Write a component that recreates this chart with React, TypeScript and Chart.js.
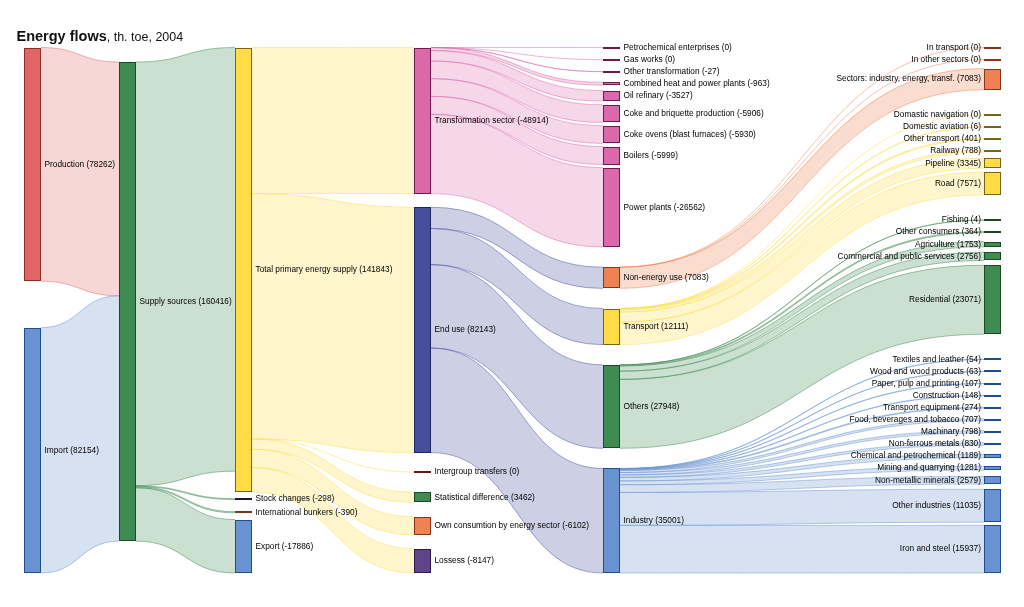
import React, { useEffect, useRef } from "react";
import { Chart, registerables } from "chart.js";

Chart.register(...registerables);

// ---------------- data ----------------
const TITLE = "Energy flows";
const SUBTITLE = ", th. toe, 2004";

const NODE_NAMES = [
  "Production", "Import",
  "Supply sources",
  "Total primary energy supply", "Stock changes", "International bunkers", "Export",
  "Transformation sector", "End use", "Intergroup transfers", "Statistical difference",
  "Own consumtion by energy sector", "Lossess",
  "Petrochemical enterprises", "Gas works", "Other transformation", "Combined heat and power plants",
  "Oil refinary", "Coke and briquette production", "Coke ovens (blast furnaces)", "Boilers",
  "Power plants", "Non-energy use", "Transport", "Others", "Industry",
  "In transport", "In other sectors", "Sectors: industry, energy, transf.",
  "Domastic navigation", "Domestic aviation", "Other transport", "Railway", "Pipeline", "Road",
  "Fishing", "Other consumers", "Agriculture", "Commercial and public services", "Residential",
  "Textiles and leather", "Wood and wood products", "Paper, pulp and printing", "Construction",
  "Transport equipment", "Food, beverages and tobacco", "Machinary", "Non-ferrous metals",
  "Chemical and petrochemical", "Mining and quarrying", "Non-metallic minerals",
  "Other industries", "Iron and steel",
];

const NODE_COLUMNS = [
  0, 0,
  1,
  2, 2, 2, 2,
  3, 3, 3, 3, 3, 3,
  4, 4, 4, 4, 4, 4, 4, 4, 4, 4, 4, 4, 4,
  5, 5, 5, 5, 5, 5, 5, 5, 5, 5, 5, 5, 5, 5, 5, 5, 5, 5, 5, 5, 5, 5, 5, 5, 5, 5, 5,
];

const NODE_LABEL_VALUES = [
  78262, 82154,
  160416,
  141843, -298, -390, -17886,
  -48914, 82143, 0, 3462, -6102, -8147,
  0, 0, -27, -963, -3527, -5906, -5930, -5999, -26562, 7083, 12111, 27948, 35001,
  0, 0, 7083,
  0, 6, 401, 788, 3345, 7571,
  4, 364, 1753, 2756, 23071,
  54, 63, 107, 148, 274, 707, 798, 830, 1189, 1281, 2579, 11035, 15937,
];

const LINK_FROM = [
  "Production", "Import",
  "Supply sources", "Supply sources", "Supply sources", "Supply sources",
  "Total primary energy supply", "Total primary energy supply", "Total primary energy supply",
  "Total primary energy supply", "Total primary energy supply", "Total primary energy supply",
  "Transformation sector", "Transformation sector", "Transformation sector", "Transformation sector",
  "Transformation sector", "Transformation sector", "Transformation sector", "Transformation sector",
  "Transformation sector",
  "End use", "End use", "End use", "End use",
  "Non-energy use", "Non-energy use", "Non-energy use",
  "Transport", "Transport", "Transport", "Transport", "Transport", "Transport",
  "Others", "Others", "Others", "Others", "Others",
  "Industry", "Industry", "Industry", "Industry", "Industry", "Industry", "Industry",
  "Industry", "Industry", "Industry", "Industry", "Industry", "Industry",
];

const LINK_TO = [
  "Supply sources", "Supply sources",
  "Total primary energy supply", "Stock changes", "International bunkers", "Export",
  "Transformation sector", "End use", "Intergroup transfers", "Statistical difference",
  "Own consumtion by energy sector", "Lossess",
  "Petrochemical enterprises", "Gas works", "Other transformation", "Combined heat and power plants",
  "Oil refinary", "Coke and briquette production", "Coke ovens (blast furnaces)", "Boilers",
  "Power plants",
  "Non-energy use", "Transport", "Others", "Industry",
  "In transport", "In other sectors", "Sectors: industry, energy, transf.",
  "Domastic navigation", "Domestic aviation", "Other transport", "Railway", "Pipeline", "Road",
  "Fishing", "Other consumers", "Agriculture", "Commercial and public services", "Residential",
  "Textiles and leather", "Wood and wood products", "Paper, pulp and printing", "Construction",
  "Transport equipment", "Food, beverages and tobacco", "Machinary", "Non-ferrous metals",
  "Chemical and petrochemical", "Mining and quarrying", "Non-metallic minerals",
  "Other industries", "Iron and steel",
];

const LINK_VALUES = [
  78262, 82154,
  141843, 298, 390, 17886,
  48914, 82143, 0, 3462, 6102, 8147,
  0, 0, 27, 963, 3527, 5906, 5930, 5999, 26562,
  7083, 12111, 27948, 35001,
  0, 0, 7083,
  0, 6, 401, 788, 3345, 7571,
  4, 364, 1753, 2756, 23071,
  54, 63, 107, 148, 274, 707, 798, 830, 1189, 1281, 2579, 11035, 15937,
];

// ---------------- styles / layout constants ----------------
const PALETTE: Record<string, { fill: string; stroke: string }> = {
  red: { fill: "#e06666", stroke: "#8e2c2c" },
  blue: { fill: "#6893d0", stroke: "#1e4d93" },
  green: { fill: "#3f8b51", stroke: "#1c4826" },
  yellow: { fill: "#ffdc45", stroke: "#75641a" },
  navy: { fill: "#2b2a66", stroke: "#17163d" },
  brown: { fill: "#b05a3a", stroke: "#7a3420" },
  darkred: { fill: "#9a2a2a", stroke: "#651616" },
  pink: { fill: "#dc68ac", stroke: "#6e1a4f" },
  indigo: { fill: "#464f9e", stroke: "#1f255e" },
  orange: { fill: "#ef8153", stroke: "#8b3419" },
  purple: { fill: "#5f4489", stroke: "#2d1b4b" },
};

const NODE_FAMILY = [
  "red", "blue",
  "green",
  "yellow", "navy", "brown", "blue",
  "pink", "indigo", "darkred", "green", "orange", "purple",
  "pink", "pink", "pink", "pink", "pink", "pink", "pink", "pink", "pink",
  "orange", "yellow", "green", "blue",
  "orange", "orange", "orange",
  "yellow", "yellow", "yellow", "yellow", "yellow", "yellow",
  "green", "green", "green", "green", "green",
  "blue", "blue", "blue", "blue", "blue", "blue", "blue", "blue", "blue", "blue", "blue", "blue", "blue",
];

const COL_X = [0, 0.0995, 0.2208, 0.4068, 0.6036, 1];
const NODE_W = 17;
const PAD_FRAC = 0.0163;
const LABEL_FRAC = 11.6 / 526;
const GAP_SMALL_FRAC = 0.5 / 526;
const GAP_BIG_FRAC = 3.2 / 526;
const FREE_FRAC = 2 / 526;
const LABEL_FONT = '8.3px Arial, "Liberation Sans", sans-serif';

type LinkT = { s: number; t: number; v: number; sOff: number; tOff: number };

function computeLayout() {
  const n = NODE_NAMES.length;
  const index = new Map<string, number>();
  NODE_NAMES.forEach((s, i) => index.set(s, i));
  const links: LinkT[] = LINK_FROM.map((f, k) => ({
    s: index.get(f) as number,
    t: index.get(LINK_TO[k]) as number,
    v: LINK_VALUES[k],
    sOff: 0,
    tOff: 0,
  }));
  const inSum = new Array(n).fill(0);
  const outSum = new Array(n).fill(0);
  for (const l of links) {
    outSum[l.s] += l.v;
    inSum[l.t] += l.v;
  }
  const size = NODE_NAMES.map((_, i) => Math.max(inSum[i], outSum[i]));
  const outs: LinkT[][] = NODE_NAMES.map(() => []);
  const ins: LinkT[][] = NODE_NAMES.map(() => []);
  for (const l of links) {
    outs[l.s].push(l);
    ins[l.t].push(l);
  }
  for (let i = 0; i < n; i++) {
    outs[i].sort((a, b) => a.t - b.t);
    let acc = 0;
    for (const l of outs[i]) {
      l.sOff = acc;
      acc += l.v;
    }
    ins[i].sort((a, b) => a.s - b.s);
    acc = 0;
    for (const l of ins[i]) {
      l.tOff = acc;
      acc += l.v;
    }
  }
  const nCols = Math.max(...NODE_COLUMNS) + 1;
  const cols: number[][] = Array.from({ length: nCols }, () => []);
  NODE_COLUMNS.forEach((c, i) => cols[c].push(i));
  let span = 0;
  for (const col of cols) {
    const sum = col.reduce((a, i) => a + size[i], 0);
    span = Math.max(span, sum / (1 - (col.length - 1) * PAD_FRAC));
  }
  const LABEL = LABEL_FRAC * span;
  const GS = GAP_SMALL_FRAC * span;
  const GB = GAP_BIG_FRAC * span;
  const FREE = FREE_FRAC * span;
  const y0 = new Array(n).fill(0);

  const fromSources = (i: number): number | null => {
    let w = 0, s = 0;
    for (const l of ins[i]) {
      const wt = l.v > 0 ? l.v : 1e-6;
      s += (y0[l.s] + l.sOff - l.tOff) * wt;
      w += wt;
    }
    return w > 0 ? s / w : null;
  };
  const fromTargets = (i: number): number | null => {
    let w = 0, s = 0;
    for (const l of outs[i]) {
      const wt = l.v > 0 ? l.v : 1e-6;
      s += (y0[l.t] + l.tOff - l.sOff) * wt;
      w += wt;
    }
    return w > 0 ? s / w : null;
  };
  const sourceKey = (i: number) => ins[i].map((l) => l.s).sort((a, b) => a - b).join(",");

  const place = (col: number[]) => {
    const m = col.length;
    const hs = col.map((i) => size[i]);
    if (m === 1) {
      y0[col[0]] = (span - hs[0]) / 2;
      return;
    }
    let ys: number[] = hs.map(() => 0);
    const ext = (k: number) => Math.max(hs[k], LABEL);
    const cen = (k: number) => ys[k] + hs[k] / 2;
    const extTop = (k: number) => cen(k) - ext(k) / 2;
    const extBot = (k: number) => cen(k) + ext(k) / 2;
    const gap = (k: number) => (hs[k] >= LABEL || hs[k + 1] >= LABEL ? GB : GS);

    const keys = col.map(sourceKey);
    if (keys.every((k) => k === keys[0])) {
      // one group: justify with equal gaps between the label-aware extents
      ys[0] = 0;
      for (let k = 1; k < m; k++) ys[k] += extBot(k - 1) - extTop(k);
      const g = (span - (ys[m - 1] + hs[m - 1])) / (m - 1);
      for (let k = 1; k < m; k++) ys[k] += g * k;
      col.forEach((i, k) => (y0[i] = ys[k]));
      return;
    }

    const ideal = col.map((i) => {
      const a = fromSources(i);
      if (a !== null) return a;
      const b = fromTargets(i);
      return b !== null ? b : 0;
    });
    const a = ideal[0], b = ideal[m - 1];
    const B = span - hs[m - 1];
    ys = ideal.map((v) => (b - a > 1e-9 ? ((v - a) * B) / (b - a) : 0));
    // phase 1: collisions
    if (ys[0] < 0) ys[0] = 0;
    for (let k = 1; k < m; k++) {
      const minC = cen(k - 1) + ext(k - 1) / 2 + gap(k - 1) + ext(k) / 2;
      if (cen(k) < minC) ys[k] += minC - cen(k);
    }
    if (ys[m - 1] + hs[m - 1] > span) ys[m - 1] = span - hs[m - 1];
    for (let k = m - 2; k >= 0; k--) {
      const maxC = cen(k + 1) - ext(k + 1) / 2 - gap(k) - ext(k) / 2;
      if (cen(k) > maxC) ys[k] -= cen(k) - maxC;
    }
    if (ys[0] < 0) ys[0] = 0;
    // phase 2: share the free space evenly among the gaps that are not packed
    const gs: number[] = [];
    for (let k = 0; k < m - 1; k++) gs.push(extTop(k + 1) - extBot(k) - gap(k));
    const freeIdx = gs.map((g, k) => (g > FREE ? k : -1)).filter((k) => k >= 0);
    if (freeIdx.length > 1) {
      const F = freeIdx.reduce((p, k) => p + gs[k], 0);
      const each = F / freeIdx.length;
      const isFree = new Set(freeIdx);
      for (let k = 0; k < m - 1; k++) {
        const want = extBot(k) + gap(k) + (isFree.has(k) ? each : gs[k]);
        ys[k + 1] += want - extTop(k + 1);
      }
    }
    col.forEach((i, k) => (y0[i] = ys[k]));
  };

  for (let c = 1; c < nCols; c++) place(cols[c]);
  place(cols[0]);
  for (const col of cols) {
    if (col.length !== 1) continue;
    const i = col[0];
    const vals = [fromSources(i), fromTargets(i)].filter((v) => v !== null) as number[];
    if (vals.length) {
      const avg = vals.reduce((p, q) => p + q, 0) / vals.length;
      y0[i] = Math.min(Math.max(avg, 0), span - size[i]);
    }
  }
  return { links, size, y0, span };
}

const LAYOUT = computeLayout();

function rgba(hex: string, a: number) {
  const r = parseInt(hex.slice(1, 3), 16);
  const g = parseInt(hex.slice(3, 5), 16);
  const b = parseInt(hex.slice(5, 7), 16);
  return `rgba(${r},${g},${b},${a})`;
}

const sankeyPlugin = {
  id: "sankeyDraw",
  afterDraw(chart: any) {
    const ctx: CanvasRenderingContext2D = chart.ctx;
    const xs = chart.scales.x;
    const ysc = chart.scales.y;
    const { links, size, y0 } = LAYOUT;
    const px = (i: number) => Math.round(xs.getPixelForValue(COL_X[NODE_COLUMNS[i]]));
    const py = (v: number) => ysc.getPixelForValue(v);
    ctx.save();
    // links
    for (const l of links) {
      const x0 = px(l.s) + NODE_W;
      const x1 = px(l.t);
      const s0 = py(y0[l.s] + l.sOff);
      const s1 = py(y0[l.s] + l.sOff + l.v);
      const t0 = py(y0[l.t] + l.tOff);
      const t1 = py(y0[l.t] + l.tOff + l.v);
      const xm = (x0 + x1) / 2;
      const c = PALETTE[NODE_FAMILY[l.s]].fill;
      if (l.v > 0) {
        ctx.beginPath();
        ctx.moveTo(x0, s0);
        ctx.bezierCurveTo(xm, s0, xm, t0, x1, t0);
        ctx.lineTo(x1, t1);
        ctx.bezierCurveTo(xm, t1, xm, s1, x0, s1);
        ctx.closePath();
        ctx.fillStyle = rgba(c, 0.27);
        ctx.fill();
      }
      ctx.beginPath();
      ctx.moveTo(x0, s0);
      ctx.bezierCurveTo(xm, s0, xm, t0, x1, t0);
      if (l.v > 0) {
        ctx.moveTo(x0, s1);
        ctx.bezierCurveTo(xm, s1, xm, t1, x1, t1);
      }
      ctx.strokeStyle = rgba(c, 0.55);
      ctx.lineWidth = 0.9;
      ctx.stroke();
    }
    // nodes
    for (let i = 0; i < NODE_NAMES.length; i++) {
      const x = px(i);
      const top = py(y0[i]);
      const bot = py(y0[i] + size[i]);
      const h = bot - top;
      const fam = PALETTE[NODE_FAMILY[i]];
      if (h < 2) {
        ctx.fillStyle = fam.stroke;
        ctx.fillRect(x, Math.round((top + bot) / 2 - 1), NODE_W, 2);
      } else {
        const t = Math.round(top);
        const hh = Math.max(2, Math.round(bot) - t);
        ctx.fillStyle = fam.fill;
        ctx.fillRect(x, t, NODE_W, hh);
        ctx.strokeStyle = fam.stroke;
        ctx.lineWidth = 1;
        ctx.strokeRect(x + 0.5, t + 0.5, NODE_W - 1, hh - 1);
      }
    }
    // labels
    ctx.font = LABEL_FONT;
    ctx.fillStyle = "#000";
    ctx.textBaseline = "middle";
    const lastCol = Math.max(...NODE_COLUMNS);
    for (let i = 0; i < NODE_NAMES.length; i++) {
      const x = px(i);
      const cy = py(y0[i] + size[i] / 2);
      const text = `${NODE_NAMES[i]} (${NODE_LABEL_VALUES[i]})`;
      if (NODE_COLUMNS[i] === lastCol) {
        ctx.textAlign = "right";
        ctx.fillText(text, x - 3, cy);
      } else {
        ctx.textAlign = "left";
        ctx.fillText(text, x + NODE_W + 3.5, cy);
      }
    }
    // title
    ctx.textAlign = "left";
    ctx.textBaseline = "alphabetic";
    ctx.fillStyle = "#111";
    ctx.font = 'bold 14.5px Arial, "Liberation Sans", sans-serif';
    ctx.fillText(TITLE, 16.5, 41);
    const w = ctx.measureText(TITLE).width;
    ctx.font = '12.5px Arial, "Liberation Sans", sans-serif';
    ctx.fillText(SUBTITLE, 16.5 + w, 41);
    ctx.restore();
  },
};

export default function App() {
  const ref = useRef<HTMLCanvasElement | null>(null);
  useEffect(() => {
    document.body.style.margin = "0";
    const canvas = ref.current;
    if (!canvas) return;
    const chart = new Chart(canvas, {
      type: "scatter",
      data: { datasets: [{ data: [] }] },
      options: {
        animation: false,
        responsive: false,
        events: [],
        layout: { padding: { left: 23.5, right: 40.5, top: 47.5, bottom: 34 } },
        plugins: {
          legend: { display: false },
          tooltip: { enabled: false },
          title: { display: false },
        },
        scales: {
          x: { type: "linear", min: 0, max: 1, display: false },
          y: { type: "linear", min: 0, max: LAYOUT.span, reverse: true, display: false },
        },
      },
      plugins: [sankeyPlugin],
    } as any);
    return () => chart.destroy();
  }, []);
  return (
    <div style={{ width: 1024, height: 607, background: "#fff" }}>
      <canvas ref={ref} width={1024} height={607} style={{ display: "block" }} />
    </div>
  );
}
